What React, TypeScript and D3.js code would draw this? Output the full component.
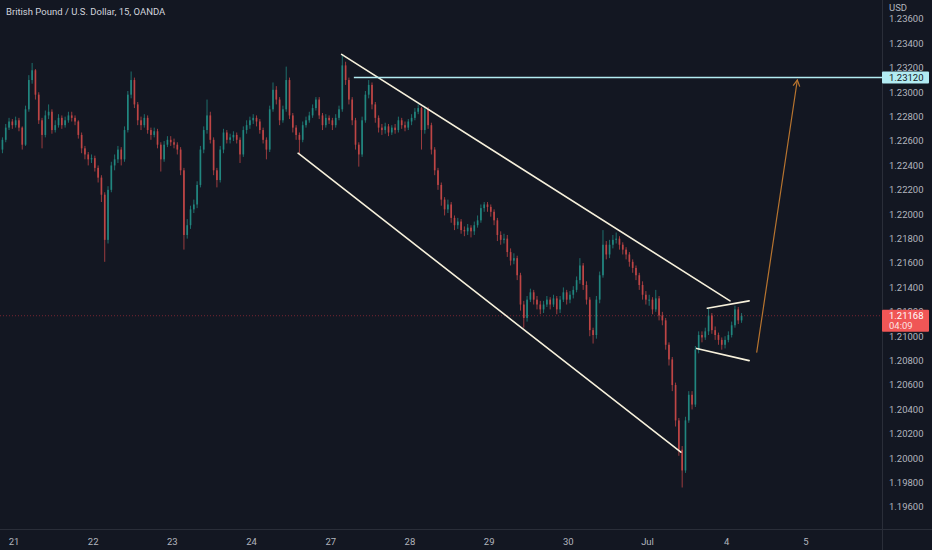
import React from "react";
import * as d3 from "d3";

const title = "British Pound / U.S. Dollar, 15, OANDA";
const firstBar = -4; // bars shown before the Jun 21 session
const firstOpen = 1.2253;

const closes = [
  1.2261, 1.2271, 1.2276, 1.2273,
  // 21
  1.2277, 1.2271, 1.2257, 1.2286, 1.231, 1.2318, 1.2298, 1.2277, 1.2265, 1.2281, 1.2284, 1.2269, 1.2273, 1.2279, 1.2273, 1.2277, 1.2281, 1.2279, 1.2276, 1.2265, 1.2254, 1.2249, 1.2245, 1.2246,
  // 22
  1.2238, 1.223, 1.2216, 1.2179, 1.222, 1.224, 1.2245, 1.2253, 1.2245, 1.2269, 1.2298, 1.231, 1.229, 1.2277, 1.2273, 1.2279, 1.2269, 1.2265, 1.2268, 1.2257, 1.2245, 1.2257, 1.2261, 1.2259,
  // 23
  1.2257, 1.2253, 1.2236, 1.2183, 1.2191, 1.2204, 1.2208, 1.2224, 1.2253, 1.2269, 1.2281, 1.2261, 1.2236, 1.2228, 1.2253, 1.2267, 1.2261, 1.2263, 1.2265, 1.2261, 1.2249, 1.2269, 1.2273, 1.2277,
  // 24
  1.2279, 1.2276, 1.2269, 1.2261, 1.2253, 1.2286, 1.2302, 1.2294, 1.2277, 1.2286, 1.231, 1.2281, 1.2271, 1.2265, 1.2261, 1.2273, 1.2277, 1.2281, 1.2287, 1.2294, 1.2281, 1.2273, 1.2279, 1.2277,
  // 27
  1.2273, 1.2279, 1.2286, 1.2322, 1.231, 1.2294, 1.2277, 1.2257, 1.2249, 1.2277, 1.2298, 1.2306, 1.229, 1.2279, 1.2271, 1.2269, 1.2272, 1.2267, 1.2271, 1.2269, 1.2277, 1.2273, 1.2271, 1.2276,
  // 28
  1.2279, 1.2284, 1.2287, 1.2269, 1.2286, 1.2273, 1.2253, 1.2236, 1.2224, 1.2212, 1.2204, 1.2208, 1.2197, 1.2191, 1.2194, 1.2187, 1.2186, 1.2189, 1.2186, 1.2191, 1.2195, 1.2205, 1.2208, 1.2206,
  // 29
  1.2202, 1.2195, 1.2183, 1.2179, 1.218, 1.2169, 1.2162, 1.2164, 1.215, 1.2126, 1.2115, 1.213, 1.2136, 1.213, 1.2126, 1.2122, 1.2126, 1.213, 1.2126, 1.2131, 1.2122, 1.213, 1.2136, 1.213,
  // 30
  1.2134, 1.2138, 1.2146, 1.2158, 1.2142, 1.213, 1.2105, 1.2101, 1.213, 1.215, 1.2175, 1.2167, 1.2175, 1.2179, 1.218, 1.2175, 1.2171, 1.2167, 1.2161, 1.2156, 1.215, 1.2142, 1.2134, 1.213,
  // Jul 1
  1.213, 1.2122, 1.2131, 1.2117, 1.2113, 1.2093, 1.2081, 1.206, 1.2031, 1.2007, 1.199, 1.2031, 1.2052, 1.2044, 1.2089, 1.2101, 1.2099, 1.2104, 1.2117, 1.2105, 1.2101, 1.2097, 1.2093, 1.2097,
  // Jul 4
  1.2101, 1.2109, 1.2122, 1.2113, 1.21168,
];

const highs = [
  1.2263, 1.2274, 1.2279, 1.2278,
  1.228, 1.2279, 1.2272, 1.2289, 1.2314, 1.2324, 1.2319, 1.23, 1.2279, 1.2285, 1.229, 1.2286, 1.2277, 1.2282, 1.2281, 1.228, 1.2284, 1.2284, 1.2281, 1.2277, 1.2267, 1.2256, 1.2251, 1.2249,
  1.2248, 1.224, 1.2232, 1.2218, 1.2223, 1.2243, 1.2249, 1.2256, 1.2255, 1.2272, 1.2301, 1.2317, 1.2312, 1.2292, 1.228, 1.2282, 1.2281, 1.2271, 1.2271, 1.227, 1.2259, 1.226, 1.2264, 1.2264,
  1.2262, 1.2259, 1.2255, 1.2238, 1.2196, 1.2207, 1.2212, 1.2227, 1.2256, 1.2272, 1.2294, 1.2284, 1.2263, 1.2238, 1.2256, 1.227, 1.2269, 1.2266, 1.2268, 1.2267, 1.2263, 1.2272, 1.2277, 1.228,
  1.2282, 1.2281, 1.2278, 1.2271, 1.2263, 1.2289, 1.2308, 1.2305, 1.2296, 1.2289, 1.2321, 1.2312, 1.2283, 1.2273, 1.2267, 1.2276, 1.228, 1.2284, 1.229, 1.2296, 1.2296, 1.2283, 1.2282, 1.2281,
  1.2279, 1.2282, 1.2289, 1.2331, 1.2325, 1.2312, 1.2296, 1.2279, 1.2259, 1.228, 1.2301, 1.231, 1.2308, 1.2292, 1.2281, 1.2274, 1.2275, 1.2274, 1.2273, 1.2274, 1.228, 1.2279, 1.2276, 1.2278,
  1.2282, 1.2287, 1.229, 1.2288, 1.2289, 1.2288, 1.2275, 1.2255, 1.2238, 1.2226, 1.2214, 1.2212, 1.221, 1.2199, 1.2197, 1.2196, 1.219, 1.2192, 1.2191, 1.2194, 1.2199, 1.2208, 1.221, 1.221,
  1.2208, 1.2204, 1.2197, 1.2186, 1.2184, 1.2183, 1.2172, 1.2168, 1.2166, 1.2152, 1.2129, 1.2133, 1.2139, 1.2138, 1.2133, 1.2129, 1.2129, 1.2133, 1.2132, 1.2134, 1.2133, 1.2133, 1.214, 1.2138,
  1.2137, 1.2141, 1.2149, 1.2164, 1.216, 1.2145, 1.2132, 1.2107, 1.2133, 1.2153, 1.2187, 1.2178, 1.2179, 1.2183, 1.2185, 1.2182, 1.2177, 1.2173, 1.2169, 1.2163, 1.2158, 1.2152, 1.2145, 1.2137,
  1.2134, 1.2132, 1.2138, 1.2133, 1.212, 1.2115, 1.2095, 1.2083, 1.2062, 1.2033, 1.201, 1.2034, 1.2055, 1.2055, 1.2092, 1.2104, 1.2104, 1.2107, 1.2123, 1.2119, 1.2108, 1.2103, 1.2099, 1.21,
  1.2104, 1.2112, 1.2125, 1.2124, 1.2119,
];

const lows = [
  1.225, 1.2259, 1.2269, 1.227,
  1.2271, 1.2268, 1.2253, 1.2256, 1.2284, 1.2307, 1.2294, 1.2274, 1.2254, 1.2263, 1.2278, 1.2266, 1.2267, 1.2271, 1.227, 1.2271, 1.2275, 1.2276, 1.2273, 1.2262, 1.225, 1.2245, 1.224, 1.2242,
  1.2235, 1.2226, 1.221, 1.2161, 1.2176, 1.2218, 1.2236, 1.2242, 1.224, 1.2243, 1.2267, 1.2295, 1.2287, 1.2273, 1.2269, 1.2271, 1.2266, 1.2261, 1.2263, 1.2254, 1.2235, 1.2243, 1.2255, 1.2256,
  1.2254, 1.2249, 1.2232, 1.2171, 1.218, 1.2188, 1.2201, 1.2205, 1.2222, 1.225, 1.2266, 1.2258, 1.2232, 1.2222, 1.2226, 1.225, 1.2258, 1.2258, 1.226, 1.2258, 1.2242, 1.2247, 1.2266, 1.227,
  1.2274, 1.2272, 1.2266, 1.2258, 1.2245, 1.2251, 1.2284, 1.229, 1.2273, 1.2275, 1.2284, 1.2278, 1.2267, 1.2261, 1.225, 1.2259, 1.2271, 1.2275, 1.2279, 1.2285, 1.2278, 1.2269, 1.2271, 1.2274,
  1.2269, 1.2271, 1.2277, 1.2284, 1.2306, 1.229, 1.2273, 1.2253, 1.2239, 1.2247, 1.2275, 1.2295, 1.2286, 1.2275, 1.2267, 1.2265, 1.2266, 1.2264, 1.2265, 1.2266, 1.2267, 1.227, 1.2268, 1.2269,
  1.2273, 1.2277, 1.2282, 1.2253, 1.2266, 1.227, 1.2249, 1.2232, 1.222, 1.2207, 1.2199, 1.2201, 1.2193, 1.2187, 1.2188, 1.2184, 1.2182, 1.2183, 1.2181, 1.2183, 1.2189, 1.2193, 1.2202, 1.2202,
  1.2198, 1.2191, 1.2178, 1.2175, 1.2176, 1.2165, 1.2158, 1.2159, 1.2146, 1.2121, 1.2107, 1.2112, 1.2128, 1.2126, 1.2122, 1.2118, 1.2119, 1.2124, 1.2122, 1.2124, 1.2118, 1.2119, 1.2128, 1.2126,
  1.2127, 1.2131, 1.2136, 1.2143, 1.2138, 1.2126, 1.21, 1.2094, 1.2098, 1.2127, 1.2148, 1.2163, 1.2164, 1.2172, 1.2176, 1.2171, 1.2167, 1.2163, 1.2157, 1.2152, 1.2146, 1.2138, 1.213, 1.2126,
  1.2125, 1.2118, 1.212, 1.2113, 1.2109, 1.2089, 1.2076, 1.2055, 1.2026, 1.2002, 1.1976, 1.1988, 1.2029, 1.204, 1.2042, 1.2086, 1.2095, 1.2097, 1.2101, 1.2102, 1.2097, 1.2093, 1.2089, 1.209,
  1.2095, 1.2099, 1.2107, 1.211, 1.2111,
];

const dayLabels = ["21", "22", "23", "24", "27", "28", "29", "30", "Jul", "4", "5"];
const barsPerDay = 24;
const priceTicks = [1.196, 1.198, 1.2, 1.202, 1.204, 1.206, 1.208, 1.21, 1.212, 1.214, 1.216, 1.218, 1.22, 1.222, 1.224, 1.226, 1.228, 1.23, 1.232, 1.234, 1.236];

const lastPrice = 1.21168;
const countdown = "04:09";
const targetLevel = 1.2312;

// drawings, as [bar, price]
const channelTop = [[98.8, 1.2331], [216.5, 1.2129]];
const channelBottom = [[85.6, 1.225], [201.6, 1.2005]];
const flagTop = [[209.6, 1.2123], [222.3, 1.2129]];
const flagBottom = [[206.4, 1.209], [222.3, 1.208]];
const targetStart = 102.5;
const projection = [[224.6, 1.2087], [236.9, 1.231]];

const W = 932;
const H = 550;
const plotW = 882;
const plotH = 529;
const bg = "#131722";
const axisText = "#b2b5be";
const upColor = "#26a69a";
const downColor = "#ef5350";
const font = "Roboto, 'Noto Sans', sans-serif";

export default function App() {
  const x = d3.scaleLinear().domain([-4.74, 262.56]).range([0, plotW]);
  const y = d3.scaleLinear().domain([1.1942, 1.23756]).range([plotH, 0]);
  const step = x(1) - x(0);
  const bodyW = step * 0.5;

  const bars = closes.map((c, k) => {
    const o = k === 0 ? firstOpen : closes[k - 1];
    return { i: firstBar + k, o, c, h: highs[k], l: lows[k] };
  });

  const seg = (p: number[][], color: string, w: number) => (
    <line
      x1={x(p[0][0])}
      y1={y(p[0][1])}
      x2={x(p[1][0])}
      y2={y(p[1][1])}
      stroke={color}
      strokeWidth={w}
      strokeLinecap="round"
    />
  );

  // arrow head for the projection
  const ax = x(projection[1][0]);
  const ay = y(projection[1][1]);
  const ang = Math.atan2(ay - y(projection[0][1]), ax - x(projection[0][0]));
  const head = [ang + Math.PI - 0.5, ang + Math.PI + 0.5]
    .map((a) => `${ax + 7 * Math.cos(a)},${ay + 7 * Math.sin(a)}`);

  const yLast = y(lastPrice);
  const yTarget = y(targetLevel);

  return (
    <svg
      width={W}
      height={H}
      style={{ position: "absolute", left: 0, top: 0, background: bg, fontFamily: font }}
    >
      <rect width={W} height={H} fill={bg} />
      <defs>
        <clipPath id="plot">
          <rect width={plotW} height={plotH} />
        </clipPath>
      </defs>

      <g clipPath="url(#plot)">
        {bars.map((b) => {
          const cx = x(b.i);
          const up = b.c >= b.o;
          const col = up ? upColor : downColor;
          const top = y(Math.max(b.o, b.c));
          const bh = Math.max(1, y(Math.min(b.o, b.c)) - top);
          return (
            <g key={b.i} opacity={0.78}>
              <line x1={cx} x2={cx} y1={y(b.h)} y2={y(b.l)} stroke={col} strokeWidth={0.8} />
              <rect x={cx - bodyW / 2} y={top} width={bodyW} height={bh} fill={col} />
            </g>
          );
        })}

        <line x1={0} x2={plotW} y1={yLast} y2={yLast} stroke="#f23645" strokeOpacity={0.45} strokeDasharray="1 2" />

        {seg(channelTop, "#f7f1dc", 1.6)}
        {seg(channelBottom, "#f7f1dc", 1.6)}
        {seg(flagTop, "#f7f1dc", 1.6)}
        {seg(flagBottom, "#f7f1dc", 1.6)}
        <line x1={x(targetStart)} x2={plotW} y1={yTarget} y2={yTarget} stroke="#b2ebf2" strokeWidth={1.5} />
        {seg(projection, "#b7742f", 1.2)}
        <polyline points={`${head[0]} ${ax},${ay} ${head[1]}`} fill="none" stroke="#b7742f" strokeWidth={1.2} />
      </g>

      <text x={6} y={15} fill="#d1d4dc" fontSize={9.5}>{title}</text>

      {/* axis frames */}
      <line x1={plotW + 0.5} x2={plotW + 0.5} y1={0} y2={H} stroke="#2a2e39" />
      <line x1={0} x2={W} y1={plotH + 0.5} y2={plotH + 0.5} stroke="#2a2e39" />

      {/* price scale */}
      <text x={889} y={11} fill={axisText} fontSize={9.5}>USD</text>
      {priceTicks.map((p) => (
        <text key={p} x={889} y={y(p)} dy="0.35em" fill={axisText} fontSize={9.5}>
          {p.toFixed(5)}
        </text>
      ))}

      <rect x={plotW} y={yTarget - 6} width={47} height={12} fill="#b2ebf2" rx={1} />
      <text x={889} y={yTarget} dy="0.35em" fill="#131722" fontSize={9.5}>{targetLevel.toFixed(5)}</text>

      <rect x={plotW} y={yLast - 6} width={47} height={22} fill="#f05656" rx={1} />
      <text x={889} y={yLast} dy="0.35em" fill="#ffffff" fontSize={9.5}>{lastPrice.toFixed(5)}</text>
      <text x={889} y={yLast + 10} dy="0.35em" fill="#ffffff" fillOpacity={0.85} fontSize={9.5}>{countdown}</text>

      {/* time scale */}
      {dayLabels.map((d, k) => (
        <text key={d} x={x(k * barsPerDay - 0.5)} y={542} dy="0.35em" textAnchor="middle" fill={axisText} fontSize={9.5}>
          {d}
        </text>
      ))}
    </svg>
  );
}
